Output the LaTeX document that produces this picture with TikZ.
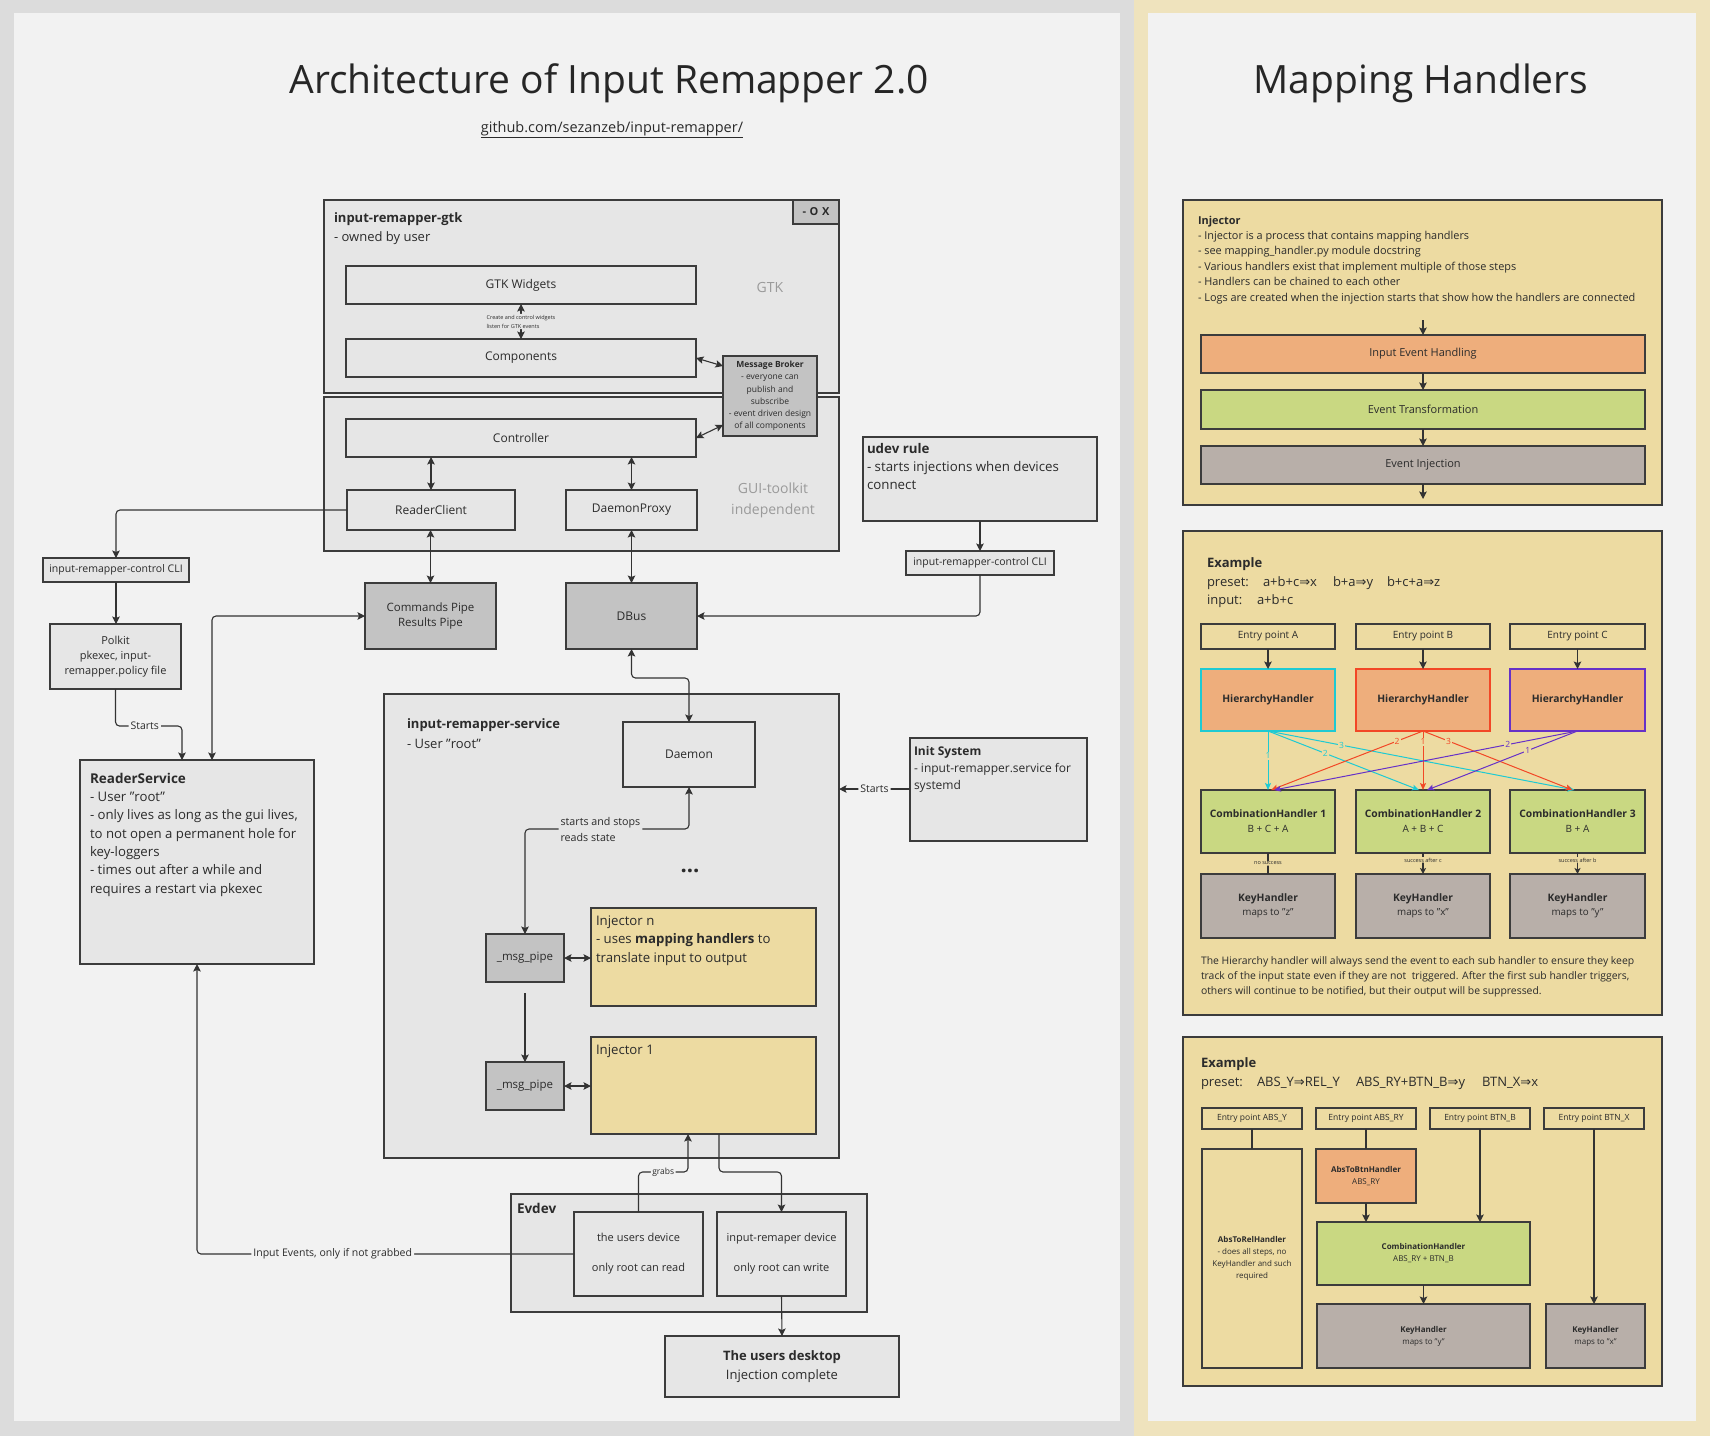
\documentclass[tikz,border=0pt]{standalone}
\usepackage{fontspec}
\setmainfont{Open Sans}
\newfontfamily\dvs{DejaVu Sans}
\usetikzlibrary{arrows.meta,calc}
\definecolor{outerbg}{HTML}{DCDCDC}
\definecolor{panelbg}{HTML}{F2F2F2}
\definecolor{strip}{HTML}{EFE3BD}
\definecolor{boxgray}{HTML}{E6E6E6}
\definecolor{darkgray}{HTML}{C3C3C3}
\definecolor{ylw}{HTML}{EDDBA2}
\definecolor{org}{HTML}{EEAE7C}
\definecolor{grn}{HTML}{C9D882}
\definecolor{brn}{HTML}{B8AFA9}
\definecolor{lncol}{HTML}{333333}
\definecolor{bdcol}{HTML}{3C3C3C}
\definecolor{txt}{HTML}{2B2B2B}
\definecolor{faint}{HTML}{9A9A9A}
\definecolor{cyn}{HTML}{1ECAD3}
\definecolor{rd}{HTML}{F24726}
\definecolor{prp}{HTML}{6631C7}
\newcommand\fs[2]{\fontsize{#1}{#2}\selectfont}
\newcommand\bx[7]{\node[#2,minimum width={(#5-#3)*1pt},minimum height={(#6-#4)*1pt}] (#1) at ({(#3+#5)/2},{(#4+#6)/2}) {#7};}
\newcommand\myimp{{\dvs ⇒}}
\begin{document}
\begin{tikzpicture}[x=1pt,y=-1pt,
  box/.style={draw=bdcol, line width=1.1pt, fill=boxgray, inner sep=0pt, outer sep=0pt, text=txt, align=center},
  dbox/.style={box, fill=darkgray},
  ybox/.style={box, fill=ylw},
  obox/.style={box, fill=org},
  gbox/.style={box, fill=grn},
  bbox/.style={box, fill=brn},
  tl/.style={anchor=base west, inner sep=0pt, outer sep=0pt, align=left, text=txt},
  tip/.tip={Stealth[length=7.5pt,width=7.5pt,inset=1.5pt]},
  arr/.style={draw=lncol, line width=1.1pt, rounded corners=4pt, -tip},
  darr/.style={draw=lncol, line width=1.1pt, rounded corners=4pt, tip-tip},
  ln/.style={draw=lncol, line width=1.1pt, rounded corners=4pt},
  lbl/.style={fill=panelbg, inner sep=2pt, text=txt, font=\fs{10.5}{12}},
  carr/.style={line width=1pt, -{Stealth[length=7pt,width=6pt,inset=1.5pt]}},
  clbl/.style={fill=ylw, inner sep=1pt, font=\fs{8.5}{9}},
  tiny/.style={fill=ylw, inner sep=0.6pt, text=txt, font=\fs{5.5}{6}}
]
\useasboundingbox (0,0) rectangle (1710,1436);
\fill[outerbg] (0,0) rectangle (1710,1436);
\fill[panelbg] (14,13) rectangle (1120,1421);
\fill[strip] (1134,0) rectangle (1710,1436);
\fill[panelbg] (1148,13) rectangle (1696,1421);

% titles
\node[font=\fs{39}{46}, text=black!85] (t1) at (609,83) {Architecture of Input Remapper 2.0};
\node[font=\fs{14.5}{16}, text=txt] (t2) at (612,130) {\underline{github.com/sezanzeb/input-remapper/}};
\node[font=\fs{39}{46}, text=black!85] (t3) at (1421,83) {Mapping Handlers};

% ---------------- left diagram ----------------
\bx{gtk}{box}{324}{200}{839}{393}{}
\bx{gui}{box}{324}{397}{839}{551}{}
\bx{oxb}{dbox,font=\bfseries\fs{11}{13}}{793}{200}{839}{224}{-\,\,O\,\,X}
\node[tl,font=\fs{13}{19}] (gtkt) at (334,241) {\textbf{input-remapper-gtk}\\- owned by user};
\bx{gtkw}{box,font=\fs{12}{14}}{346}{266}{696}{304}{GTK Widgets}
\bx{comp}{box,font=\fs{12}{14}}{346}{339}{696}{377}{Components}
\node[font=\fs{14}{16},text=faint] (gtkl) at (770,287) {GTK};
\bx{ctrl}{box,font=\fs{12}{14}}{346}{419}{696}{457}{Controller}
\bx{rc}{box,font=\fs{12}{14}}{347}{490}{515}{530}{ReaderClient}
\bx{dp}{box,font=\fs{12}{14}}{566}{490}{697}{530}{DaemonProxy}
\node[font=\fs{14}{21},text=faint,align=center] (guil) at (773,500) {GUI-toolkit\\independent};
\bx{mb}{dbox,font=\fs{8.5}{12.2}}{723}{356}{817}{436}{\textbf{Message Broker}\\- everyone can\\publish and\\subscribe\\- event driven design\\of all components}

\draw[darr] (gtkw.south) -- node[fill=boxgray,inner sep=1pt,align=left,text=txt,font=\fs{5.5}{9}] (gl) {Create and control widgets\\listen for GTK events} (comp.north);
\draw[darr] (comp.east) -- ($(mb.north west)+(0,10)$);
\draw[darr] (ctrl.east) -- ($(mb.south west)+(0,-11)$);
\draw[darr] (rc.north) -- (rc.north |- ctrl.south);
\draw[darr] (dp.north) -- (dp.north |- ctrl.south);

\bx{cli1}{box,font=\fs{10.5}{12}}{43}{558}{189}{582}{input-remapper-control CLI}
\bx{polkit}{box,font=\fs{11}{15}}{50}{624}{181}{689}{Polkit\\pkexec, input-\\remapper.policy file}
\bx{cp}{dbox,font=\fs{11.5}{15}}{365}{583}{496}{649}{Commands Pipe\\Results Pipe}
\bx{dbus}{dbox,font=\fs{12}{14}}{566}{583}{697}{649}{DBus}
\bx{udev}{box}{863}{437}{1097}{521}{}
\node[tl,font=\fs{13.3}{18}] (udevt) at (867,489) {\textbf{udev rule}\\- starts injections when devices\\connect};
\bx{cli2}{box,font=\fs{10.5}{12}}{906}{551}{1054}{575}{input-remapper-control CLI}
\bx{rs}{box}{80}{760}{314}{964}{}
\node[tl,font=\fs{13.2}{18.3}] (rst) at (90,893) {{\bfseries\fs{13.5}{18.3}ReaderService}\\- User "root"\\- only lives as long as the gui lives,\\to not open a permanent hole for\\key-loggers\\- times out after a while and\\requires a restart via pkexec};

\bx{svc}{box}{384}{694}{839}{1158}{}
\node[tl,font=\fs{13}{20}] (svct) at (407,748) {\textbf{input-remapper-service}\\- User "root"};
\bx{daemon}{box,font=\fs{12}{14}}{623}{722}{755}{787}{Daemon}
\bx{init}{box}{910}{738}{1087}{841}{}
\node[tl,font=\fs{12}{17}] (initt) at (914,789) {\textbf{Init System}\\- input-remapper.service for\\systemd};
\node[font=\bfseries\fs{22}{22},text=txt] (dots) at (690,871) {...};
\bx{injn}{ybox}{591}{908}{816}{1006}{}
\node[tl,font=\fs{13.2}{18.5}] (injnt) at (596,962) {Injector n\\- uses \textbf{mapping handlers} to\\translate input to output};
\bx{mpn}{dbox,font=\fs{11.5}{14}}{486}{934}{564}{982}{\_msg\_pipe}
\bx{inj1}{ybox}{591}{1037}{816}{1134}{}
\node[tl,font=\fs{13.2}{18}] (inj1t) at (596,1054) {Injector 1};
\bx{mp1}{dbox,font=\fs{11.5}{14}}{486}{1062}{564}{1110}{\_msg\_pipe}
\bx{evdev}{box}{511}{1194}{867}{1312}{}
\node[tl,font=\bfseries\fs{13.5}{16}] (evt) at (517,1213) {Evdev};
\bx{ud}{box,font=\fs{11}{30}}{574}{1212}{703}{1296}{the users device\\only root can read}
\bx{ird}{box,font=\fs{11}{30}}{717}{1212}{846}{1296}{input-remaper device\\only root can write}
\bx{desk}{box,font=\fs{13}{19}}{665}{1336}{899}{1397}{\textbf{The users desktop}\\Injection complete}

\coordinate (cst) at (182,726);
\coordinate (crs) at (212,0);
\coordinate (cdb) at (660,678);
\coordinate (cin) at (0,789);
\coordinate (cms) at (0,829);
\coordinate (cgr) at (688,1172);
\coordinate (cij) at (719,0);
\coordinate (cir) at (750,1172);

\draw[darr] (cp.north) -- (cp.north |- rc.south);
\draw[darr] (dbus.north) -- (dbus.north |- dp.south);
\draw[arr] (rc.west) -| (cli1.north);
\draw[arr] (cli1.south) -- (cli1.south |- polkit.north);
\draw[arr] (polkit.south) |- node[lbl,pos=0.72] (lst1) {Starts} (cst) -- (rs.north -| cst);
\draw[darr] (rs.north -| crs) |- (cp.west);
\draw[darr] (dbus.south) |- (cdb) -| (daemon.north);
\draw[arr] (udev.south) -- (cli2.north);
\draw[arr] (cli2.south) |- (dbus.east);
\draw[arr] (init.west |- cin) -- node[lbl] (lst2) {Starts} (svc.east |- cin);
\draw[darr] (mpn.north) |- node[fill=boxgray,inner sep=2pt,align=left,text=txt,font=\fs{10.7}{16},pos=0.73] (lss) {starts and stops\\reads state} (cms -| daemon.south) -- (daemon.south);
\draw[darr] (mpn.east) -- (mpn.east -| injn.west);
\draw[arr] ($(mpn.south)+(0,11)$) -- (mp1.north);
\draw[darr] (mp1.east) -- (mp1.east -| inj1.west);
\draw[arr] (ud.north) |- node[lbl,font=\fs{8.5}{9},inner sep=1.5pt,pos=0.75] (lgr) {grabs} (cgr) -- (inj1.south -| cgr);
\draw[arr] (inj1.south -| cij) |- (cir) -| (ird.north);
\draw[arr] (ird.south) -- (desk.north);
\draw[arr] (ud.west) -| node[lbl,pos=0.32] (lie) {Input Events, only if not grabbed} (rs.south);

% ---------------- right diagram ----------------
\bx{injbox}{ybox}{1183}{200}{1662}{505}{}
\node[tl,font=\fs{10.9}{15.4}] (injt) at (1198,301) {\textbf{Injector}\\- Injector is a process that contains mapping handlers\\- see mapping\_handler.py module docstring\\- Various handlers exist that implement multiple of those steps\\- Handlers can be chained to each other\\- Logs are created when the injection starts that show how the handlers are connected};
\bx{ieh}{obox,font=\fs{11}{13}}{1201}{335}{1645}{373}{Input Event Handling}
\bx{et}{gbox,font=\fs{11}{13}}{1201}{390}{1645}{429}{Event Transformation}
\bx{ei}{bbox,font=\fs{11}{13}}{1201}{446}{1645}{484}{Event Injection}
\coordinate (ctop) at (1423,320);
\coordinate (cbot) at (1423,499);
\draw[arr] (ctop) -- (ieh.north);
\draw[arr] (ieh.south) -- (et.north);
\draw[arr] (et.south) -- (ei.north);
\draw[arr] (ei.south) -- (cbot);

% example 1
\bx{ex1}{ybox}{1183}{531}{1662}{1015}{}
\node[tl,font=\bfseries\fs{13}{16}] (ex1t) at (1207,567) {Example};
\node[tl,font=\fs{13}{16}] (ex1p) at (1207,586) {preset:};
\node[tl,font=\fs{13}{16}] (ex1p1) at (1263,586) {a+b+c\myimp x};
\node[tl,font=\fs{13}{16}] (ex1p2) at (1333,586) {b+a\myimp y};
\node[tl,font=\fs{13}{16}] (ex1p3) at (1387,586) {b+c+a\myimp z};
\node[tl,font=\fs{13}{16}] (ex1i) at (1207,604) {input:};
\node[tl,font=\fs{13}{16}] (ex1i1) at (1257,604) {a+b+c};

\bx{epa}{ybox,font=\fs{10}{12}}{1201}{624}{1335}{649}{Entry point A}
\bx{epb}{ybox,font=\fs{10}{12}}{1356}{624}{1490}{649}{Entry point B}
\bx{epc}{ybox,font=\fs{10}{12}}{1510}{624}{1645}{649}{Entry point C}
\bx{hha}{obox,draw=cyn,line width=1.4pt,font=\bfseries\fs{10.3}{12}}{1201}{669}{1335}{731}{HierarchyHandler}
\bx{hhb}{obox,draw=rd,line width=1.4pt,font=\bfseries\fs{10.3}{12}}{1356}{669}{1490}{731}{HierarchyHandler}
\bx{hhc}{obox,draw=prp,line width=1.4pt,font=\bfseries\fs{10.3}{12}}{1510}{669}{1645}{731}{HierarchyHandler}
\bx{cb1}{gbox,font=\fs{10}{15}}{1201}{790}{1335}{853}{{\bfseries\fs{10.3}{15}CombinationHandler 1}\\B + C + A}
\bx{cb2}{gbox,font=\fs{10}{15}}{1356}{790}{1490}{853}{{\bfseries\fs{10.3}{15}CombinationHandler 2}\\A + B + C}
\bx{cb3}{gbox,font=\fs{10}{15}}{1510}{790}{1645}{853}{{\bfseries\fs{10.3}{15}CombinationHandler 3}\\B + A}
\bx{kh1}{bbox,font=\fs{9.8}{14}}{1201}{874}{1335}{938}{{\bfseries\fs{10.3}{14}KeyHandler}\\maps to "z"}
\bx{kh2}{bbox,font=\fs{9.8}{14}}{1356}{874}{1490}{938}{{\bfseries\fs{10.3}{14}KeyHandler}\\maps to "x"}
\bx{kh3}{bbox,font=\fs{9.8}{14}}{1510}{874}{1645}{938}{{\bfseries\fs{10.3}{14}KeyHandler}\\maps to "y"}

\draw[arr] (epa.south) -- (hha.north);
\draw[arr] (epb.south) -- (hhb.north);
\draw[arr] (epc.south) -- (hhc.north);

\draw[carr,cyn] (hha.south) -- node[clbl,pos=0.42] (la1) {1} (cb1.north);
\draw[carr,cyn] (hha.south) -- node[clbl,pos=0.38] (la2) {2} ($(cb2.north)+(-4,0)$);
\draw[carr,cyn] (hha.south) -- node[clbl,pos=0.24] (la3) {3} ($(cb3.north)+(-3,0)$);
\draw[carr,rd] (hhb.south) -- node[clbl,pos=0.17] (lb2) {2} ($(cb1.north)+(3,0)$);
\draw[carr,rd] (hhb.south) -- node[clbl,pos=0.18] (lb1) {1} (cb2.north);
\draw[carr,rd] (hhb.south) -- node[clbl,pos=0.17] (lb3) {3} ($(cb3.north)+(-5,0)$);
\draw[carr,prp] (hhc.south) -- node[clbl,pos=0.23] (lc2) {2} ($(cb1.north)+(6,0)$);
\draw[carr,prp] (hhc.south) -- node[clbl,pos=0.33] (lc1) {1} ($(cb2.north)+(4,0)$);

\draw[ln] (cb1.south) -- node[tiny] (ns) {no success} (kh1.north);
\draw[arr,-{Stealth[length=6pt,width=6pt,inset=1.5pt]}] (cb2.south) -- node[tiny,pos=0.33] (sc) {success after c} (kh2.north);
\draw[arr,-{Stealth[length=6pt,width=6pt,inset=1.5pt]}] (cb3.south) -- node[tiny,pos=0.33] (sb) {success after b} (kh3.north);

\node[tl,font=\fs{10.4}{15}] (ex1n) at (1201,994) {The Hierarchy handler will always send the event to each sub handler to ensure they keep\\track of the input state even if they are not\ \ triggered. After the first sub handler triggers,\\others will continue to be notified, but their output will be suppressed.};

% example 2
\bx{ex2}{ybox}{1183}{1037}{1662}{1386}{}
\node[tl,font=\bfseries\fs{13}{16}] (ex2t) at (1201,1067) {Example};
\node[tl,font=\fs{13}{16}] (ex2p) at (1201,1086) {preset:};
\node[tl,font=\fs{13}{16}] (ex2p1) at (1257,1086) {ABS\_Y\myimp REL\_Y};
\node[tl,font=\fs{13}{16}] (ex2p2) at (1356,1086) {ABS\_RY+BTN\_B\myimp y};
\node[tl,font=\fs{13}{16}] (ex2p3) at (1482,1086) {BTN\_X\myimp x};

\bx{e2a}{ybox,font=\fs{8.5}{10}}{1202}{1108}{1302}{1129}{Entry point ABS\_Y}
\bx{e2b}{ybox,font=\fs{8.5}{10}}{1316}{1108}{1416}{1129}{Entry point ABS\_RY}
\bx{e2c}{ybox,font=\fs{8.5}{10}}{1430}{1108}{1530}{1129}{Entry point BTN\_B}
\bx{e2d}{ybox,font=\fs{8.5}{10}}{1544}{1108}{1644}{1129}{Entry point BTN\_X}
\bx{atr}{ybox,font=\fs{8}{12}}{1202}{1149}{1302}{1368}{\textbf{AbsToRelHandler}\\- does all steps, no\\KeyHandler and such\\required}
\bx{atb}{obox,font=\fs{8}{12}}{1316}{1149}{1416}{1203}{\textbf{AbsToBtnHandler}\\ABS\_RY}
\bx{cmb}{gbox,font=\fs{8}{12}}{1317}{1222}{1530}{1285}{\textbf{CombinationHandler}\\ABS\_RY + BTN\_B}
\bx{k2a}{bbox,font=\fs{8}{12}}{1317}{1304}{1530}{1368}{\textbf{KeyHandler}\\maps to "y"}
\bx{k2b}{bbox,font=\fs{8}{12}}{1546}{1304}{1645}{1368}{\textbf{KeyHandler}\\maps to "x"}

\draw[ln] (e2a.south) -- (atr.north);
\draw[ln] (e2b.south) -- (atb.north);
\draw[arr] (atb.south) -- (atb.south |- cmb.north);
\draw[arr] (e2c.south) -- (e2c.south |- cmb.north);
\draw[arr] (cmb.south) -- (cmb.south |- k2a.north);
\draw[arr] (e2d.south) -- (e2d.south |- k2b.north);
\end{tikzpicture}
\end{document}
